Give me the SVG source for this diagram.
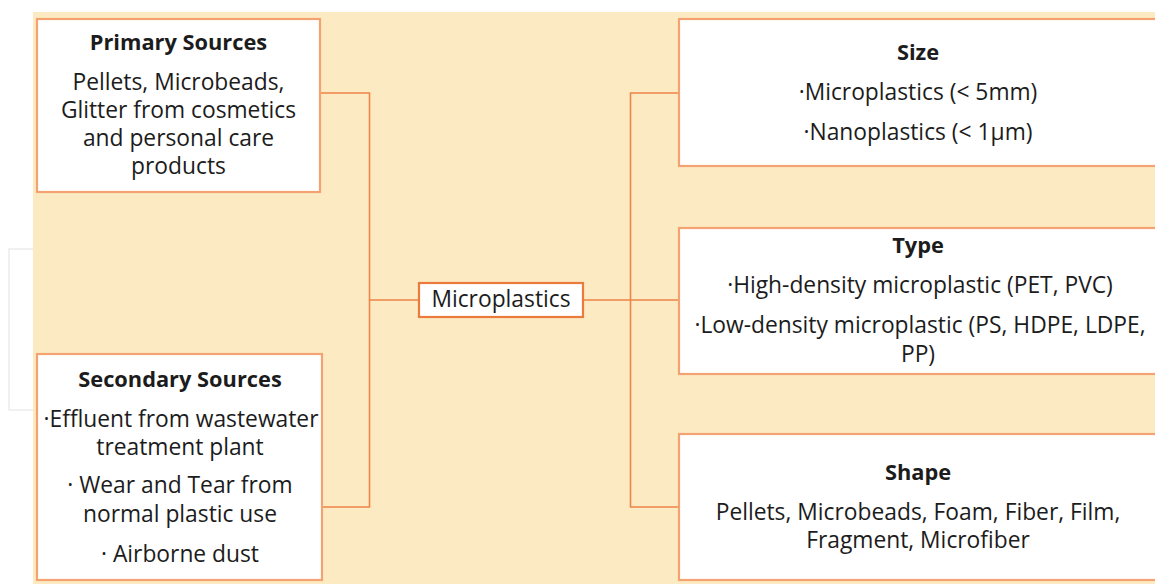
<svg xmlns="http://www.w3.org/2000/svg" width="1155" height="584" viewBox="0 0 1155 584">
<style>
.box{fill:#fff;stroke:#F5A273;stroke-width:2.2}
.mbox{fill:#fff;stroke:#EC7A3C;stroke-width:2.2}
.con{fill:none;stroke:#EE8447;stroke-width:1.6}
text{font-family:"Open Sans","Liberation Sans",sans-serif;font-size:22.8px;fill:#1c1c1c;text-anchor:middle}
.t{font-weight:bold;font-size:21.8px}
</style>
<rect x="0" y="0" width="1155" height="584" fill="#fff"/>
<rect x="9" y="249" width="40" height="161" fill="none" stroke="#ececec" stroke-width="1.5"/>
<rect x="33" y="12" width="1122" height="572" fill="#FCEBC2"/>
<g id="connectors">
<path class="con" d="M320 93 H369.5 V507 H322"/>
<path class="con" d="M369.5 300 H419"/>
<path class="con" d="M583 300 H630"/>
<path class="con" d="M679 93 H630.5 V507 H679"/>
<path class="con" d="M630 300 H679"/>
</g>
<g id="primary">
<rect class="box" x="37" y="19" width="283" height="173"/>
<text class="t" x="178.5" y="50">Primary Sources</text>
<text x="178.5" y="90">Pellets, Microbeads,</text>
<text x="178.5" y="118">Glitter from cosmetics</text>
<text x="178.5" y="146">and personal care</text>
<text x="178.5" y="174">products</text>
</g>
<g id="secondary">
<rect class="box" x="37" y="354" width="285" height="226"/>
<text class="t" x="180" y="387">Secondary Sources</text>
<text x="181" y="427">·Effluent from wastewater</text>
<text x="180" y="455">treatment plant</text>
<text x="180" y="493">· Wear and Tear from</text>
<text x="180" y="522">normal plastic use</text>
<text x="180" y="562">· Airborne dust</text>
</g>
<g id="microplastics">
<rect class="mbox" x="419" y="283" width="164" height="34"/>
<text x="501" y="307">Microplastics</text>
</g>
<g id="size">
<rect class="box" x="679" y="19" width="490" height="147"/>
<text class="t" x="918" y="60">Size</text>
<text x="918" y="100">·Microplastics (&lt; 5mm)</text>
<text x="918" y="140">·Nanoplastics (&lt; 1μm)</text>
</g>
<g id="type">
<rect class="box" x="679" y="228" width="490" height="146"/>
<text class="t" x="918" y="253">Type</text>
<text x="920" y="293">·High-density microplastic (PET, PVC)</text>
<text x="920" y="333">·Low-density microplastic (PS, HDPE, LDPE,</text>
<text x="918" y="362">PP)</text>
</g>
<g id="shape">
<rect class="box" x="679" y="434" width="490" height="146"/>
<text class="t" x="918" y="480">Shape</text>
<text x="918" y="520">Pellets, Microbeads, Foam, Fiber, Film,</text>
<text x="918" y="548">Fragment, Microfiber</text>
</g>
</svg>
